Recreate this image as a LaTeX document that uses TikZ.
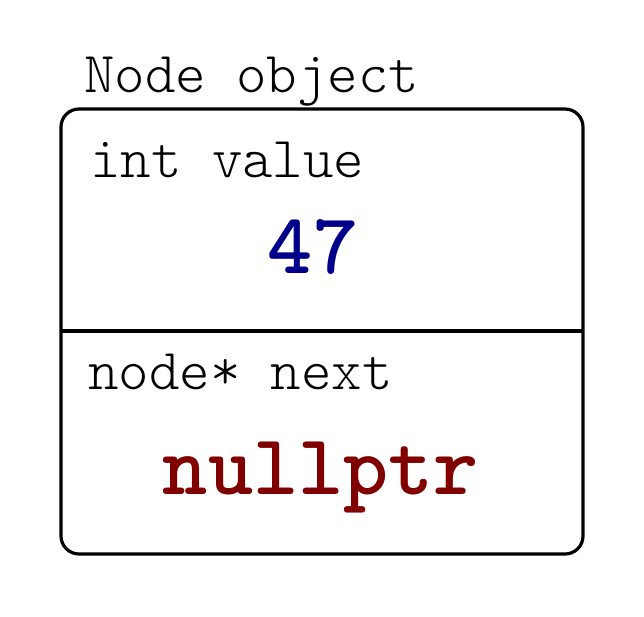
\documentclass[tikz,border=0pt]{standalone}
\usepackage{fontspec}
\newfontfamily\lmlight{Latin Modern Mono Light}
\definecolor{valblue}{HTML}{00008B}
\definecolor{valred}{HTML}{800000}
\begin{document}
\begin{tikzpicture}[x=1pt,y=-1pt,
  label/.style={font=\lmlight\fontsize{58}{62}\selectfont, inner sep=0pt, anchor=base west},
  valtext/.style={font=\ttfamily\bfseries\fontsize{86}{90}\selectfont, inner sep=0pt, anchor=base},
  objbox/.style={draw, line width=3.2pt, rounded corners=18pt, minimum width=522pt, minimum height=445pt, inner sep=0pt}]
\useasboundingbox (0,0) rectangle (644,616);
\node[objbox] (box) at (322,331.5) {};
\coordinate (dl) at (61,331);
\coordinate (dr) at (583,331);
\draw[line width=3.2pt] (dl) -- (dr);
\node[label] (title) at (84,92) {Node object};
\node[label] (f1) at (90,177) {int value};
\node[valtext, text=valblue] (v1) at (313,273) {47};
\node[label] (f2) at (88,389) {node* next};
\node[valtext, text=valred] (v2) at (321,494) {nullptr};
\end{tikzpicture}
\end{document}
